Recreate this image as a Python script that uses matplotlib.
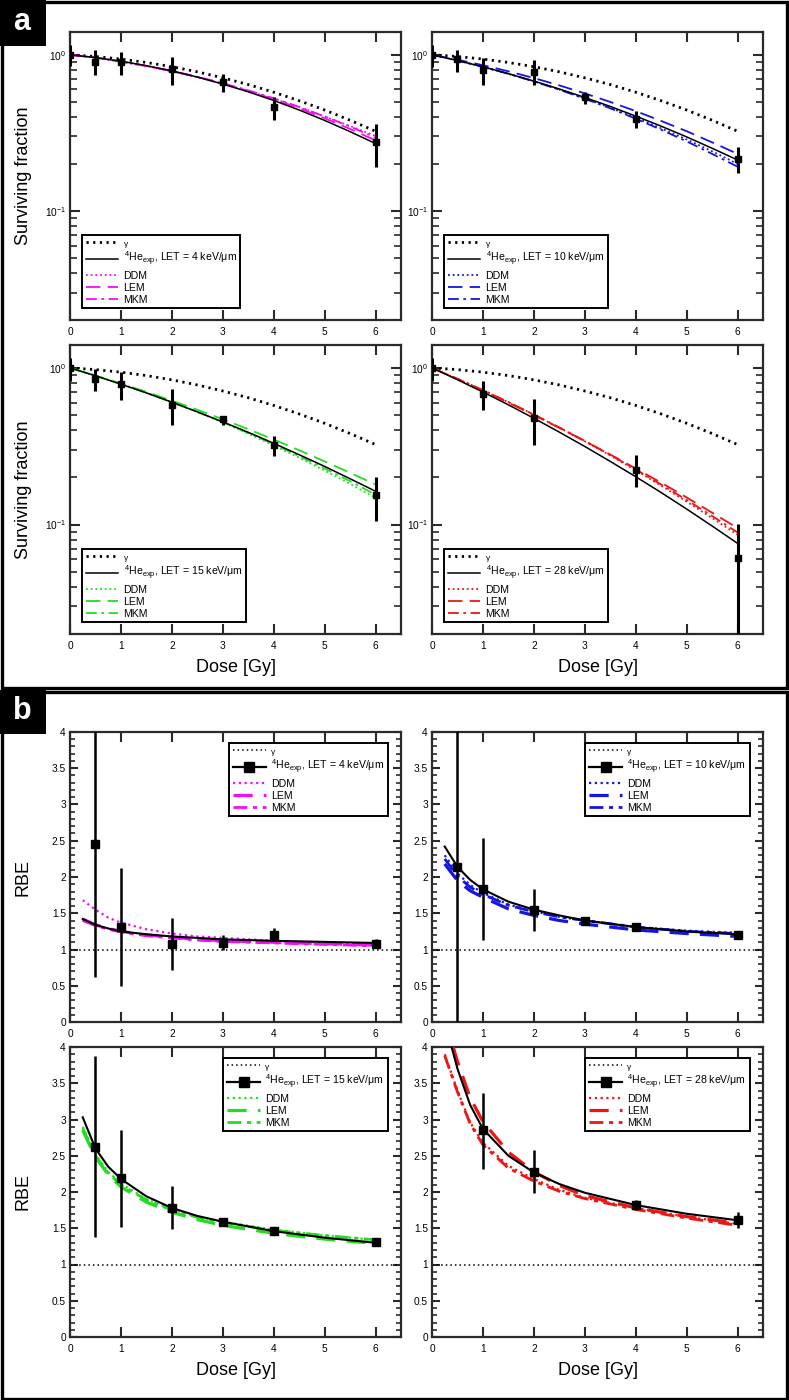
import numpy as np
import matplotlib
matplotlib.use('Agg')
import matplotlib.pyplot as plt
from matplotlib.patches import Rectangle
from matplotlib.lines import Line2D
from matplotlib.ticker import LogLocator, NullFormatter, MultipleLocator, FixedLocator

plt.rcParams['font.family'] = ['Liberation Sans', 'DejaVu Sans']
plt.rcParams['mathtext.fontset'] = 'custom'
plt.rcParams['mathtext.rm'] = 'Liberation Sans'
plt.rcParams['mathtext.it'] = 'Liberation Sans:italic'
plt.rcParams['mathtext.default'] = 'regular'

# ---------------- data ----------------
LETS = [4, 10, 15, 28]
COLORS = ['#F010F0', '#1414E6', '#22DD22', '#EE1515']

# Surviving fraction curves (dose grid)
sf_dose = [0, 0.5, 1, 1.5, 2, 2.5, 3, 3.5, 4, 4.5, 5, 5.5, 6]
sf_gamma = [1, 0.975, 0.939, 0.893, 0.839, 0.778, 0.712, 0.645, 0.576, 0.508, 0.443, 0.381, 0.324]

sf_exp_4 = [1, 0.960, 0.910, 0.852, 0.789, 0.720, 0.650, 0.579, 0.510, 0.443, 0.380, 0.322, 0.270]
sf_ddm_4 = [1, 0.958, 0.902, 0.845, 0.783, 0.718, 0.652, 0.587, 0.523, 0.462, 0.403, 0.350, 0.302]
sf_lem_4 = [1, 0.960, 0.905, 0.848, 0.787, 0.722, 0.655, 0.587, 0.520, 0.455, 0.392, 0.335, 0.283]
sf_mkm_4 = [1, 0.960, 0.905, 0.849, 0.788, 0.724, 0.658, 0.592, 0.527, 0.464, 0.403, 0.347, 0.295]

sf_exp_10 = [1, 0.919, 0.838, 0.757, 0.679, 0.604, 0.533, 0.467, 0.405, 0.349, 0.298, 0.252, 0.212]
sf_ddm_10 = [1, 0.919, 0.837, 0.755, 0.676, 0.599, 0.526, 0.458, 0.395, 0.338, 0.287, 0.241, 0.200]
sf_lem_10 = [1, 0.930, 0.858, 0.784, 0.710, 0.637, 0.566, 0.499, 0.436, 0.377, 0.324, 0.275, 0.232]
sf_mkm_10 = [1, 0.920, 0.838, 0.756, 0.676, 0.598, 0.523, 0.454, 0.390, 0.331, 0.279, 0.232, 0.192]

sf_exp_15 = [1, 0.890, 0.787, 0.692, 0.604, 0.524, 0.452, 0.388, 0.330, 0.279, 0.235, 0.196, 0.163]
sf_ddm_15 = [1, 0.893, 0.791, 0.695, 0.605, 0.523, 0.448, 0.380, 0.320, 0.267, 0.221, 0.182, 0.148]
sf_lem_15 = [1, 0.894, 0.795, 0.703, 0.618, 0.540, 0.470, 0.406, 0.349, 0.298, 0.253, 0.214, 0.180]
sf_mkm_15 = [1, 0.892, 0.789, 0.694, 0.605, 0.524, 0.450, 0.384, 0.325, 0.273, 0.228, 0.189, 0.155]

sf_exp_28 = [1, 0.840, 0.701, 0.581, 0.477, 0.389, 0.315, 0.253, 0.202, 0.160, 0.1256, 0.0979, 0.0758]
sf_ddm_28 = [1, 0.852, 0.721, 0.604, 0.503, 0.415, 0.340, 0.276, 0.222, 0.177, 0.140, 0.110, 0.086]
sf_lem_28 = [1, 0.848, 0.715, 0.599, 0.500, 0.414, 0.341, 0.280, 0.228, 0.185, 0.149, 0.119, 0.095]
sf_mkm_28 = [1, 0.852, 0.721, 0.605, 0.504, 0.417, 0.342, 0.278, 0.225, 0.180, 0.1436, 0.1135, 0.089]

# Surviving fraction measured points
sf_pt_dose_4 = [0, 0.5, 1, 2, 3, 4, 6]
sf_pt_4 = [1.0, 0.906, 0.904, 0.81, 0.673, 0.466, 0.277]
sf_pt_hi_4 = [1.16, 1.07, 1.05, 0.97, 0.753, 0.534, 0.361]
sf_pt_lo_4 = [0.843, 0.745, 0.745, 0.64, 0.575, 0.383, 0.191]

sf_pt_dose_10 = [0, 0.5, 1, 2, 3, 4, 6]
sf_pt_10 = [1.0, 0.94, 0.80, 0.78, 0.54, 0.39, 0.215]
sf_pt_hi_10 = [1.15, 1.08, 0.96, 0.92, 0.58, 0.436, 0.255]
sf_pt_lo_10 = [0.835, 0.78, 0.645, 0.64, 0.485, 0.342, 0.175]

sf_pt_dose_15 = [0, 0.5, 1, 2, 3, 4, 6]
sf_pt_15 = [1.0, 0.85, 0.79, 0.58, 0.47, 0.32, 0.155]
sf_pt_hi_15 = [1.16, 0.985, 0.94, 0.73, 0.49, 0.37, 0.20]
sf_pt_lo_15 = [0.83, 0.71, 0.62, 0.43, 0.43, 0.275, 0.105]

sf_pt_dose_28 = [0, 1, 2, 4, 6]
sf_pt_28 = [1.0, 0.686, 0.48, 0.224, 0.061]
sf_pt_hi_28 = [1.16, 0.82, 0.63, 0.276, 0.1015]
sf_pt_lo_28 = [0.83, 0.54, 0.32, 0.174, 0.015]

# RBE curves
rbe_dose = [0.25, 0.5, 0.75, 1, 1.5, 2, 2.5, 3, 4, 5, 6]
rbe_gamma = 1.0

rbe_exp_4 = [1.42, 1.34, 1.29, 1.25, 1.21, 1.18, 1.16, 1.14, 1.12, 1.105, 1.09]
rbe_ddm_4 = [1.68, 1.55, 1.44, 1.37, 1.28, 1.22, 1.18, 1.16, 1.12, 1.095, 1.07]
rbe_lem_4 = [1.42, 1.34, 1.29, 1.25, 1.20, 1.17, 1.14, 1.12, 1.10, 1.08, 1.06]
rbe_mkm_4 = [1.40, 1.33, 1.28, 1.24, 1.19, 1.16, 1.13, 1.11, 1.09, 1.07, 1.05]

rbe_exp_10 = [2.42, 2.14, 1.96, 1.83, 1.66, 1.55, 1.47, 1.40, 1.31, 1.25, 1.21]
rbe_ddm_10 = [2.30, 2.05, 1.89, 1.78, 1.62, 1.53, 1.45, 1.40, 1.31, 1.26, 1.23]
rbe_lem_10 = [2.18, 1.95, 1.81, 1.72, 1.56, 1.47, 1.40, 1.35, 1.27, 1.22, 1.18]
rbe_mkm_10 = [2.25, 2.01, 1.86, 1.76, 1.61, 1.52, 1.45, 1.40, 1.31, 1.25, 1.22]

rbe_exp_15 = [3.03, 2.60, 2.35, 2.18, 1.94, 1.78, 1.67, 1.59, 1.46, 1.37, 1.30]
rbe_ddm_15 = [2.90, 2.52, 2.28, 2.12, 1.90, 1.76, 1.66, 1.59, 1.48, 1.40, 1.34]
rbe_lem_15 = [2.85, 2.48, 2.24, 2.07, 1.86, 1.72, 1.62, 1.54, 1.43, 1.35, 1.29]
rbe_mkm_15 = [2.88, 2.50, 2.26, 2.10, 1.89, 1.75, 1.65, 1.58, 1.47, 1.40, 1.34]

rbe_exp_28 = [4.35, 3.70, 3.20, 2.87, 2.50, 2.27, 2.11, 1.99, 1.82, 1.70, 1.61]
rbe_ddm_28 = [3.90, 3.40, 2.96, 2.68, 2.36, 2.18, 2.03, 1.92, 1.78, 1.66, 1.56]
rbe_lem_28 = [4.40, 3.80, 3.30, 2.97, 2.55, 2.28, 2.09, 1.95, 1.78, 1.66, 1.57]
rbe_mkm_28 = [3.88, 3.38, 2.94, 2.65, 2.33, 2.15, 2.01, 1.91, 1.76, 1.64, 1.54]

# RBE measured points
rbe_pt_dose_4 = [0.5, 1, 2, 3, 4, 6]
rbe_pt_4 = [2.45, 1.31, 1.08, 1.09, 1.20, 1.08]
rbe_pt_hi_4 = [4.5, 2.13, 1.43, 1.195, 1.29, 1.15]
rbe_pt_lo_4 = [0.62, 0.50, 0.72, 0.99, 1.14, 1.02]

rbe_pt_dose_10 = [0.5, 1, 2, 3, 4, 6]
rbe_pt_10 = [2.14, 1.83, 1.54, 1.40, 1.31, 1.20]
rbe_pt_hi_10 = [4.5, 2.54, 1.84, 1.45, 1.34, 1.24]
rbe_pt_lo_10 = [-0.2, 1.13, 1.25, 1.36, 1.27, 1.16]

rbe_pt_dose_15 = [0.5, 1, 2, 3, 4, 6]
rbe_pt_15 = [2.62, 2.19, 1.78, 1.59, 1.46, 1.31]
rbe_pt_hi_15 = [3.87, 2.86, 2.08, 1.62, 1.50, 1.37]
rbe_pt_lo_15 = [1.38, 1.52, 1.49, 1.55, 1.41, 1.25]

rbe_pt_dose_28 = [1, 2, 4, 6]
rbe_pt_28 = [2.85, 2.27, 1.82, 1.61]
rbe_pt_hi_28 = [3.37, 2.58, 1.89, 1.72]
rbe_pt_lo_28 = [2.32, 1.98, 1.75, 1.50]

SF = {4: (sf_exp_4, sf_ddm_4, sf_lem_4, sf_mkm_4, sf_pt_dose_4, sf_pt_4, sf_pt_lo_4, sf_pt_hi_4),
      10: (sf_exp_10, sf_ddm_10, sf_lem_10, sf_mkm_10, sf_pt_dose_10, sf_pt_10, sf_pt_lo_10, sf_pt_hi_10),
      15: (sf_exp_15, sf_ddm_15, sf_lem_15, sf_mkm_15, sf_pt_dose_15, sf_pt_15, sf_pt_lo_15, sf_pt_hi_15),
      28: (sf_exp_28, sf_ddm_28, sf_lem_28, sf_mkm_28, sf_pt_dose_28, sf_pt_28, sf_pt_lo_28, sf_pt_hi_28)}
RBE = {4: (rbe_exp_4, rbe_ddm_4, rbe_lem_4, rbe_mkm_4, rbe_pt_dose_4, rbe_pt_4, rbe_pt_lo_4, rbe_pt_hi_4),
       10: (rbe_exp_10, rbe_ddm_10, rbe_lem_10, rbe_mkm_10, rbe_pt_dose_10, rbe_pt_10, rbe_pt_lo_10, rbe_pt_hi_10),
       15: (rbe_exp_15, rbe_ddm_15, rbe_lem_15, rbe_mkm_15, rbe_pt_dose_15, rbe_pt_15, rbe_pt_lo_15, rbe_pt_hi_15),
       28: (rbe_exp_28, rbe_ddm_28, rbe_lem_28, rbe_mkm_28, rbe_pt_dose_28, rbe_pt_28, rbe_pt_lo_28, rbe_pt_hi_28)}

# ---------------- figure ----------------
W, H = 789, 1400
fig = plt.figure(figsize=(W / 100, H / 100), dpi=100)

def ax_at(x0, y0, x1, y1):
    return fig.add_axes([x0 / W, 1 - y1 / H, (x1 - x0) / W, (y1 - y0) / H])

SPINE = '#2a2a2a'
cols_x = [(70, 401), (432, 763)]
sf_rows = [(32, 320), (345, 634)]
rbe_rows = [(732, 1022), (1047, 1337)]

def style_common(ax):
    for s in ax.spines.values():
        s.set_linewidth(1.6)
        s.set_color(SPINE)
    ax.set_xlim(0, 6.5)
    ax.xaxis.set_major_locator(FixedLocator([0, 1, 2, 3, 4, 5, 6]))
    ax.tick_params(axis='x', which='major', direction='in', length=7.5, width=1.5,
                   top=True, bottom=True, labelsize=7.3, pad=5, color=SPINE)
    ax.tick_params(axis='y', which='both', direction='in', left=True, right=True,
                   labelsize=7.3, pad=3, color=SPINE)
    ax.tick_params(axis='y', which='major', length=5.5, width=1.5)
    ax.tick_params(axis='y', which='minor', length=3.5, width=1.2)

line_kw = dict(lw=1.2)
for i, let in enumerate(LETS):
    r, c = divmod(i, 2)
    ax = ax_at(cols_x[c][0], sf_rows[r][0], cols_x[c][1], sf_rows[r][1])
    exp_c, ddm, lem, mkm, pd, pv, plo, phi = SF[let]
    col = COLORS[i]
    ax.plot(sf_dose, sf_gamma, color='k', ls=(0, (0.8, 1.6)), lw=2.0, label='γ', zorder=3)
    ax.plot(sf_dose, exp_c, color='k', ls='-', lw=1.1,
            label=r'$^{4}$He$_{exp}$, LET = %d keV/μm' % let, zorder=4)
    ax.plot(sf_dose, ddm, color=col, ls=(0, (1, 1.6)), lw=1.3, label='DDM', zorder=3)
    ax.plot(sf_dose, lem, color=col, ls=(0, (8, 4)), lw=1.3, label='LEM', zorder=3)
    ax.plot(sf_dose, mkm, color=col, ls=(0, (6, 2.5, 1.5, 2.5)), lw=1.3, label='MKM', zorder=3)
    pv_a = np.array(pv)
    yerr = [pv_a - np.array(plo), np.array(phi) - pv_a]
    ax.errorbar(pd, pv, yerr=yerr, fmt='s', color='k', ms=4.2, elinewidth=2.2,
                capsize=0, zorder=5, clip_on=True)
    ax.set_yscale('log')
    ax.set_ylim(0.02, 1.4)
    ax.yaxis.set_major_locator(LogLocator(base=10, numticks=5))
    ax.yaxis.set_minor_locator(LogLocator(base=10, subs=np.arange(2, 10), numticks=20))
    ax.yaxis.set_minor_formatter(NullFormatter())
    style_common(ax)
    ax.tick_params(axis='y', which='major', length=7)
    ax.tick_params(axis='y', which='minor', length=5)
    leg = ax.legend(loc='lower left', bbox_to_anchor=(0.036, 0.04), fontsize=7.6,
                    frameon=True, fancybox=False, edgecolor='k', framealpha=1,
                    handlelength=3.1, handletextpad=0.5, labelspacing=0.2,
                    borderpad=0.35, borderaxespad=0)
    leg.get_frame().set_linewidth(1.4)
    leg.get_texts()[0].set_fontsize(6)
    if c == 0:
        ax.set_ylabel('Surviving fraction', fontsize=13)
        ax.yaxis.set_label_coords(-0.115, 0.5)
    if r == 1:
        ax.set_xlabel('Dose [Gy]', fontsize=13)
        ax.xaxis.set_label_coords(0.5, -0.085)

for i, let in enumerate(LETS):
    r, c = divmod(i, 2)
    ax = ax_at(cols_x[c][0], rbe_rows[r][0], cols_x[c][1], rbe_rows[r][1])
    exp_c, ddm, lem, mkm, pd, pv, plo, phi = RBE[let]
    col = COLORS[i]
    ax.axhline(rbe_gamma, color='k', ls=(0, (1, 2)), lw=1.1, zorder=2)
    ax.plot(rbe_dose, exp_c, color='k', ls='-', lw=1.5, zorder=4)
    ax.plot(rbe_dose, ddm, color=col, ls=(0, (1, 1.6)), lw=1.6, zorder=3)
    ax.plot(rbe_dose, lem, color=col, ls=(0, (6, 3.5)), lw=2.3, zorder=3)
    ax.plot(rbe_dose, mkm, color=col, ls=(0, (5, 2, 1.5, 2)), lw=2.0, zorder=3)
    pv_a = np.array(pv)
    yerr = [pv_a - np.array(plo), np.array(phi) - pv_a]
    ax.errorbar(pd, pv, yerr=yerr, fmt='s', color='k', ms=5.5, elinewidth=1.8,
                capsize=0, zorder=5)
    ax.set_ylim(0, 4)
    ax.yaxis.set_major_locator(MultipleLocator(0.5))
    ax.yaxis.set_minor_locator(MultipleLocator(0.1))
    ax.yaxis.set_major_formatter(matplotlib.ticker.FormatStrFormatter('%g'))
    style_common(ax)
    handles = [Line2D([], [], color='k', ls=(0, (1, 2)), lw=1.1),
               Line2D([], [], color='k', lw=1.6, marker='s', ms=7),
               Line2D([], [], color=col, ls=(0, (1, 1.6)), lw=1.6),
               Line2D([], [], color=col, ls=(0, (6, 3.5)), lw=2.3),
               Line2D([], [], color=col, ls=(0, (5, 2, 1.5, 2)), lw=2.0)]
    labels = ['γ', r'$^{4}$He$_{exp}$, LET = %d keV/μm' % let, 'DDM', 'LEM', 'MKM']
    leg = ax.legend(handles, labels, loc='upper right', bbox_to_anchor=(0.96, 0.962),
                    fontsize=7.6, frameon=True, fancybox=False, edgecolor='k',
                    framealpha=1, handlelength=3.1, handletextpad=0.5,
                    labelspacing=0.2, borderpad=0.35, borderaxespad=0)
    leg.get_frame().set_linewidth(1.4)
    leg.get_texts()[0].set_fontsize(6)
    if c == 0:
        ax.set_ylabel('RBE', fontsize=13)
        ax.yaxis.set_label_coords(-0.115, 0.5)
    if r == 1:
        ax.set_xlabel('Dose [Gy]', fontsize=13)
        ax.xaxis.set_label_coords(0.5, -0.085)

# frames and panel labels
def frect(x0, y0, x1, y1, **kw):
    fig.add_artist(Rectangle((x0 / W, 1 - y1 / H), (x1 - x0) / W, (y1 - y0) / H,
                             transform=fig.transFigure, **kw))

frect(2, 1.5, 787, 688, fill=False, edgecolor='k', lw=2.4)
frect(2, 692, 787, 1398.5, fill=False, edgecolor='k', lw=2.4)
frect(0, 0, 46, 46, facecolor='k', edgecolor='none')
frect(0, 690, 46, 734, facecolor='k', edgecolor='none')
fig.text(22 / W, 1 - 22 / H, 'a', color='white', fontsize=22, fontweight='bold',
         ha='center', va='center')
fig.text(22 / W, 1 - 711 / H, 'b', color='white', fontsize=22, fontweight='bold',
         ha='center', va='center')

fig.savefig('out.png', dpi=100)
